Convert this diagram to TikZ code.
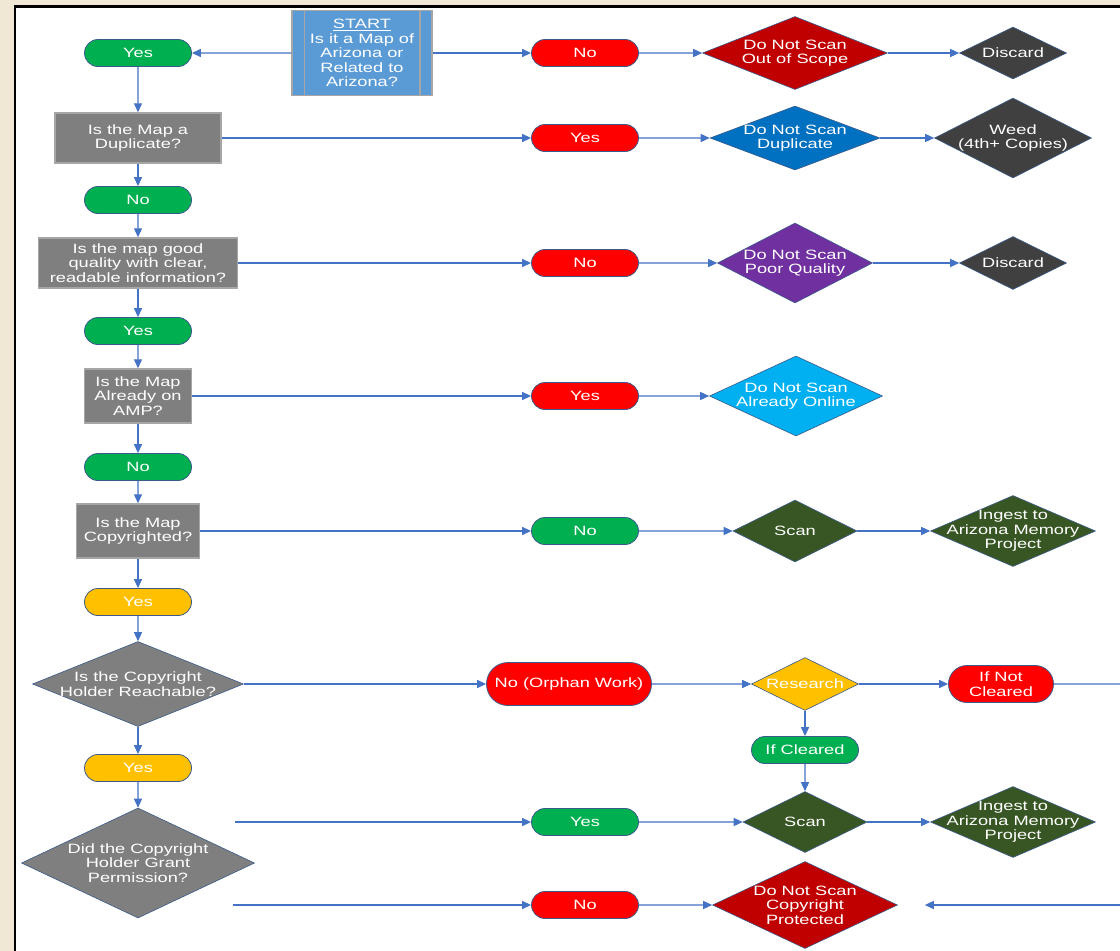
\documentclass[tikz,border=0pt]{standalone}
\usepackage{fontspec}
\setmainfont{Liberation Sans}[FakeStretch=1.35]
\usetikzlibrary{arrows.meta,shapes.geometric,shapes.misc}
\definecolor{beige}{HTML}{F0E8D5}
\definecolor{arrblue}{HTML}{4472C4}
\definecolor{edge}{HTML}{3A5A8C}
\definecolor{cgreen}{HTML}{00B050}
\definecolor{cred}{HTML}{FF0000}
\definecolor{cyellow}{HTML}{FFC000}
\definecolor{cgrey}{HTML}{7F7F7F}
\definecolor{cgreyedge}{HTML}{A6A6A6}
\definecolor{cstart}{HTML}{5B9BD5}
\definecolor{cdkred}{HTML}{C00000}
\definecolor{cblue}{HTML}{0070C0}
\definecolor{cpurple}{HTML}{7030A0}
\definecolor{cltblue}{HTML}{00B0F0}
\definecolor{cdkgrey}{HTML}{404040}
\definecolor{cdkgreen}{HTML}{375623}
\newcommand{\chartfont}{\fontsize{13.5}{14.5}\selectfont}
\tikzset{
  arr/.style={draw=arrblue, line width=1.3pt, -{Triangle[length=9pt,width=8pt]}},
  plain/.style={draw=arrblue, line width=1.3pt},
  pill/.style={rounded rectangle, draw=edge, line width=0.8pt, inner sep=0pt,
    minimum width=107pt, minimum height=27pt, text=white, align=center, font=\chartfont},
  qbox/.style={rectangle, draw=cgreyedge, line width=1.5pt, fill=cgrey, inner sep=0pt,
    text=white, align=center, font=\chartfont},
  dia/.style={diamond, draw=edge, line width=0.6pt, inner sep=0pt},
  dtxt/.style={text=white, align=center, font=\chartfont, inner sep=0pt},
}
\begin{document}
\begin{tikzpicture}[x=1pt, y=-1pt]
\useasboundingbox (0,0) rectangle (1120,951);
\fill[beige] (0,0) rectangle (1120,951);
\fill[white] (15,6.5) rectangle (1120,951);
\draw[line width=2.5pt] (15,951) -- (15,6.5) -- (1120,6.5);

% row 1
\node[pill, fill=cgreen] (yes1) at (138,53) {Yes};
\node[rectangle, draw=cgreyedge, line width=1.5pt, fill=cstart, inner sep=0pt,
  minimum width=140pt, minimum height=85pt, text=white, align=center, font=\chartfont]
  (start) at (362,53) {\underline{START}\\Is it a Map of\\Arizona or\\Related to\\Arizona?};
\draw[cgreyedge, line width=1.5pt] ([xshift=13pt]start.north west) -- ([xshift=13pt]start.south west);
\draw[cgreyedge, line width=1.5pt] ([xshift=-13pt]start.north east) -- ([xshift=-13pt]start.south east);
\node[pill, fill=cred] (no1) at (585,53) {No};
\node[dia, fill=cdkred, minimum width=185pt, minimum height=73pt,
  label={[dtxt]center:{Do Not Scan\\Out of Scope}}] (oos) at (795,53) {};
\node[dia, fill=cdkgrey, minimum width=107pt, minimum height=52pt,
  label={[dtxt]center:{Discard}}] (disc1) at (1013,53) {};

% row 2
\node[qbox, minimum width=166pt, minimum height=50pt] (dup) at (138,138) {Is the Map a\\Duplicate?};
\node[pill, fill=cred] (yes2) at (585,138) {Yes};
\node[dia, fill=cblue, minimum width=170pt, minimum height=64pt,
  label={[dtxt]center:{Do Not Scan\\Duplicate}}] (dnsdup) at (795,138) {};
\node[dia, fill=cdkgrey, minimum width=157pt, minimum height=80pt,
  label={[dtxt]center:{Weed\\(4th+ Copies)}}] (weed) at (1013,138) {};

\node[pill, fill=cgreen] (no2) at (138,200) {No};

% row 3
\node[qbox, minimum width=199pt, minimum height=50pt] (qual) at (138,263) {Is the map good\\quality with clear,\\readable information?};
\node[pill, fill=cred] (no3) at (585,263) {No};
\node[dia, fill=cpurple, minimum width=155pt, minimum height=80pt,
  label={[dtxt]center:{Do Not Scan\\Poor Quality}}] (poor) at (795,263) {};
\node[dia, fill=cdkgrey, minimum width=107pt, minimum height=53pt,
  label={[dtxt]center:{Discard}}] (disc2) at (1013,263) {};

\node[pill, fill=cgreen] (yes3) at (138,331) {Yes};

% row 4
\node[qbox, minimum width=107pt, minimum height=54pt] (amp) at (138,396) {Is the Map\\Already on\\AMP?};
\node[pill, fill=cred] (yes4) at (585,396) {Yes};
\node[dia, fill=cltblue, minimum width=173pt, minimum height=80pt,
  label={[dtxt]center:{Do Not Scan\\Already Online}}] (online) at (796,396) {};

\node[pill, fill=cgreen] (no4) at (138,467) {No};

% row 5
\node[qbox, minimum width=123pt, minimum height=54pt] (copy) at (138,531) {Is the Map\\Copyrighted?};
\node[pill, fill=cgreen] (no5) at (585,531) {No};
\node[dia, fill=cdkgreen, minimum width=124pt, minimum height=62pt,
  label={[dtxt]center:{Scan}}] (scan1) at (795,531) {};
\node[dia, fill=cdkgreen, minimum width=165pt, minimum height=71pt,
  label={[dtxt]center:{Ingest to\\Arizona Memory\\Project}}] (ing1) at (1013,531) {};

\node[pill, fill=cyellow] (yes5) at (138,602) {Yes};

% row 6
\node[dia, fill=cgrey, minimum width=211pt, minimum height=85pt,
  label={[dtxt]center:{Is the Copyright\\Holder Reachable?}}] (reach) at (138,684) {};
\node[pill, fill=cred, minimum width=165pt, minimum height=43pt] (orphan) at (569,684) {No (Orphan Work)};
\node[dia, fill=cyellow, minimum width=107pt, minimum height=53pt,
  label={[dtxt]center:{Research}}] (research) at (805,684) {};
\node[pill, fill=cred, minimum width=105pt, minimum height=37pt] (notcl) at (1001,684) {If Not\\Cleared};
\node[pill, fill=cgreen] (cleared) at (805,750) {If Cleared};

% row 7
\node[pill, fill=cyellow] (yes6) at (138,768) {Yes};
\node[dia, fill=cgrey, minimum width=233pt, minimum height=110pt,
  label={[dtxt]center:{Did the Copyright\\Holder Grant\\Permission?}}] (grant) at (138,863) {};
\node[pill, fill=cgreen] (yes7) at (585,822) {Yes};
\node[dia, fill=cdkgreen, minimum width=124pt, minimum height=61pt,
  label={[dtxt]center:{Scan}}] (scan2) at (805,822) {};
\node[dia, fill=cdkgreen, minimum width=165pt, minimum height=71pt,
  label={[dtxt]center:{Ingest to\\Arizona Memory\\Project}}] (ing2) at (1013,822) {};
\node[pill, fill=cred] (no7) at (585,905) {No};
\node[dia, fill=cdkred, minimum width=185pt, minimum height=87pt,
  label={[dtxt]center:{Do Not Scan\\Copyright\\Protected}}] (protect) at (805,905) {};

\coordinate (g1) at (235,822);
\coordinate (g2) at (233,905);
\coordinate (r1) at (1120,684);
\coordinate (r2) at (1120,905);

% connectors
\draw[arr] (start) -- (yes1);
\draw[arr] (start) -- (no1);
\draw[arr] (no1) -- (oos);
\draw[arr] (oos) -- (disc1);
\draw[arr] (yes1) -- (dup);
\draw[arr] (dup) -- (yes2);
\draw[arr] (yes2) -- (dnsdup);
\draw[arr] (dnsdup) -- (weed);
\draw[arr] (dup) -- (no2);
\draw[arr] (no2) -- (qual);
\draw[arr] (qual) -- (no3);
\draw[arr] (no3) -- (poor);
\draw[arr] (poor) -- (disc2);
\draw[arr] (qual) -- (yes3);
\draw[arr] (yes3) -- (amp);
\draw[arr] (amp) -- (yes4);
\draw[arr] (yes4) -- (online);
\draw[arr] (amp) -- (no4);
\draw[arr] (no4) -- (copy);
\draw[arr] (copy) -- (no5);
\draw[arr] (no5) -- (scan1);
\draw[arr] (scan1) -- (ing1);
\draw[arr] (copy) -- (yes5);
\draw[arr] (yes5) -- (reach);
\draw[arr] (reach) -- (orphan);
\draw[arr] (orphan) -- (research);
\draw[arr] (research) -- (notcl);
\draw[plain] (notcl) -- (r1);
\draw[arr] (research) -- (cleared);
\draw[arr] (cleared) -- (scan2);
\draw[arr] (reach) -- (yes6);
\draw[arr] (yes6) -- (grant);
\draw[arr] (g1) -- (yes7);
\draw[arr] (yes7) -- (scan2);
\draw[arr] (scan2) -- (ing2);
\draw[arr] (g2) -- (no7);
\draw[arr] (no7) -- (protect);
\draw[arr, shorten >=27pt] (r2) -- (protect);
\end{tikzpicture}
\end{document}
